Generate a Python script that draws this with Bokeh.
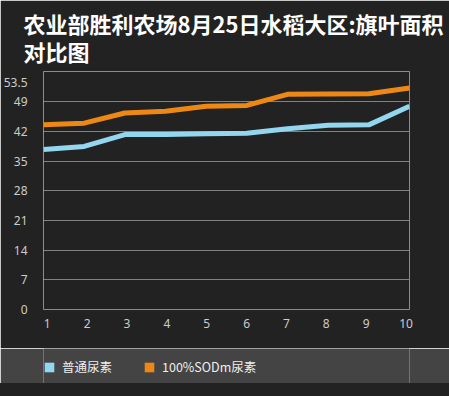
from bokeh.plotting import figure
from bokeh.layouts import column
from bokeh.models import (Range1d, LinearAxis, FixedTicker, Title, Legend, LegendItem, Spacer)
from bokeh.embed import file_html
from bokeh.resources import INLINE

# ---- data ----
days = [1, 2, 3, 4, 5, 6, 7, 8, 9, 10]
normal_urea = [37.8, 38.5, 41.3, 41.3, 41.5, 41.6, 42.7, 43.5, 43.6, 48.0]
sod_urea = [43.6, 44.0, 46.4, 46.8, 48.0, 48.2, 50.8, 50.9, 50.95, 52.3]
series = [normal_urea, sod_urea]
series_names = ["普通尿素", "100%SODm尿素"]
series_colors = ["#92d6ef", "#ee8814"]
y_ticks = [0, 7, 14, 21, 28, 35, 42, 49, 53.5]
grid_ticks = [7, 14, 21, 28, 35, 42, 49]
x_ticks = [1, 2, 3, 4, 5, 6, 7, 8, 9, 10]
title_text = "农业部胜利农场8月25日水稻大区:旗叶面积\n对比图"

BG = "#222222"
BAND = "#444444"
CJK = "Noto Sans CJK SC"

p = figure(width=449, height=348, output_backend="svg", toolbar_location=None,
           x_range=Range1d(1, 10), y_range=Range1d(0, 56.2),
           x_axis_location=None,
           min_border_left=38, min_border_right=40, min_border_top=68, min_border_bottom=39,
           background_fill_color=BG, border_fill_color=BG,
           outline_line_color="#8c8c8c", outline_line_width=1)

# title (two lines)
t = Title(text=title_text, text_font=CJK, text_font_size="22px", text_font_style="bold",
          text_color="#ffffff", align="left", offset=-20, standoff=8,
          text_line_height=0.9)
p.add_layout(t, "above")

# x axis on a label range
p.extra_x_ranges = {"lab": Range1d(0.906, 10.087)}
xaxis = LinearAxis(x_range_name="lab", ticker=FixedTicker(ticks=x_ticks))
p.add_layout(xaxis, "below")

for ax in [xaxis] + list(p.yaxis):
    ax.axis_line_color = None
    ax.major_tick_line_color = None
    ax.minor_tick_line_color = None
    ax.major_label_text_color = "#cccccc"
    ax.major_label_text_font = "Noto Sans"
    ax.major_label_text_font_size = "12px"
xaxis.major_label_standoff = 3
p.yaxis.major_label_standoff = 10
p.yaxis.ticker = FixedTicker(ticks=y_ticks)

p.xgrid.grid_line_color = None
p.ygrid.ticker = FixedTicker(ticks=grid_ticks)
p.ygrid.grid_line_color = "#e0e0e0"
p.ygrid.grid_line_dash = "1 1"
p.ygrid.grid_line_width = 1

# lines
for vals, c in zip(series, series_colors):
    p.line(days, vals, line_color=c, line_width=5)

# legend strip (separate figure filled with the band colour)
lg = figure(width=449, height=35, output_backend="svg", toolbar_location=None,
            x_axis_location=None, y_axis_location=None,
            x_range=Range1d(0, 1), y_range=Range1d(0, 1),
            min_border_left=0, min_border_right=0, min_border_top=0, min_border_bottom=0,
            background_fill_color=BAND, border_fill_color=BAND, outline_line_color=None)
lg.grid.visible = False
# degenerate swatch proxies (zero size, outside the strip's ranges)
prox = [lg.quad(left=vals[:1], right=vals[:1], top=vals[:1], bottom=vals[:1],
                fill_color=c, line_color=None)
        for vals, c in zip(series, series_colors)]
legend = Legend(items=[LegendItem(label=n, renderers=[r]) for n, r in zip(series_names, prox)],
                orientation="horizontal", location=(0, 7),
                background_fill_alpha=0, border_line_color=None,
                padding=0, margin=0, spacing=31, label_standoff=7,
                glyph_width=12, glyph_height=12,
                label_text_font=CJK, label_text_font_size="12.5px",
                label_text_color="#eeeeee")
lg.add_layout(legend)

bottom_pad = Spacer(width=449, height=13, styles={"background-color": BG})

layout = column(p, lg, bottom_pad, spacing=0)
open("out.html", "w").write(file_html(layout, INLINE))
